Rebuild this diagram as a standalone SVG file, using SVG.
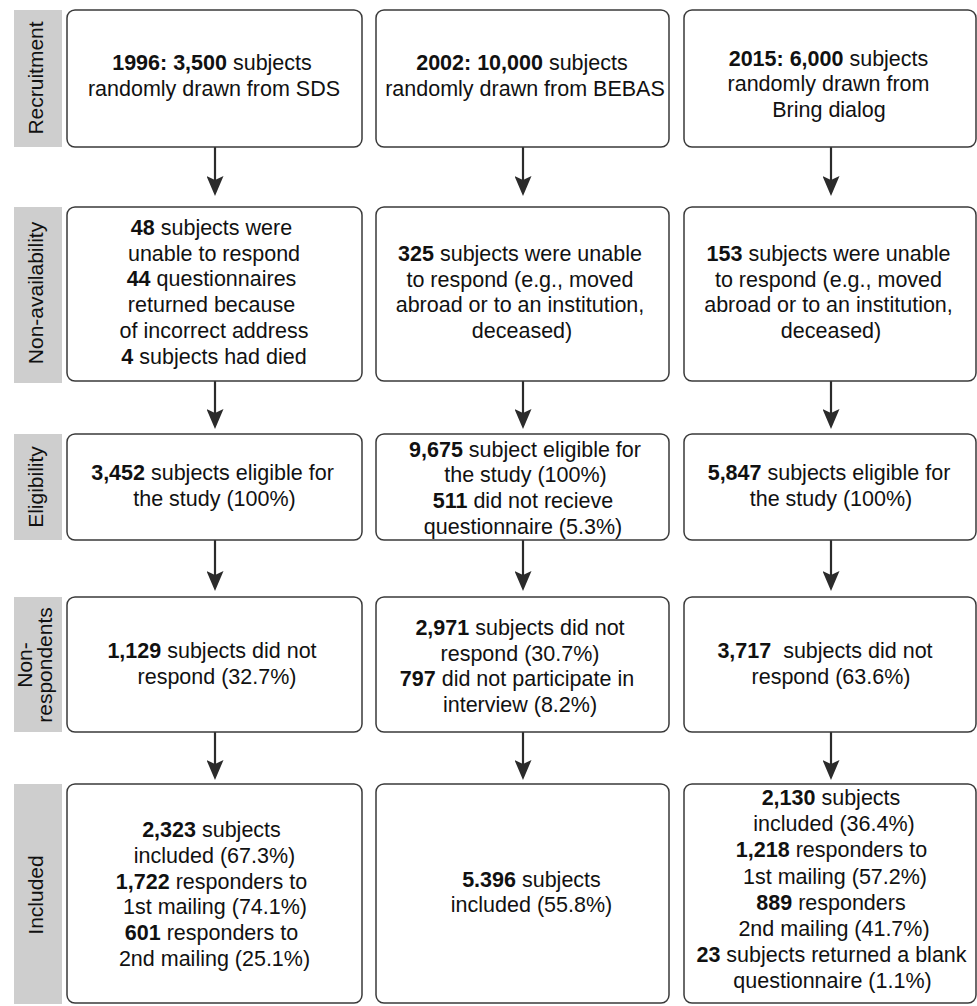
<svg xmlns="http://www.w3.org/2000/svg" width="977" height="1006" viewBox="0 0 977 1006">
<style>
.box{fill:#fff;stroke:#3a3a3a;stroke-width:1.5}
.lab{fill:#cecece}
text{font-family:"Liberation Sans",Arial,sans-serif;font-size:21.5px;fill:#111;text-anchor:middle}
.lt{font-size:21px}
.b{font-weight:bold}
.arr{stroke:#2b2b2b;stroke-width:2.2;fill:none;marker-end:url(#ah)}
</style>
<defs>
<marker id="ah" markerUnits="userSpaceOnUse" viewBox="0 0 20 17" refX="10" refY="8.5" markerWidth="20" markerHeight="17" orient="auto">
<path d="M0,0 L20,8.5 L0,17 L4,8.5 Z" fill="#2b2b2b"/>
</marker>
</defs>
<g id="labels">
<g id="lab-recruitment"><rect class="lab" x="14" y="10" width="48" height="137"/><text class="lt" transform="translate(43,78) rotate(-90)">Recruitment</text></g>
<g id="lab-nonavail"><rect class="lab" x="14" y="207" width="48" height="176"/><text class="lt" transform="translate(43,293) rotate(-90)">Non-availability</text></g>
<g id="lab-elig"><rect class="lab" x="14" y="434" width="48" height="106"/><text class="lt" transform="translate(43,487) rotate(-90)">Eligibility</text></g>
<g id="lab-nonresp"><rect class="lab" x="14" y="597" width="48" height="135"/><text class="lt" transform="translate(31.5,665) rotate(-90)">Non-</text><text class="lt" transform="translate(52,665) rotate(-90)">respondents</text></g>
<g id="lab-included"><rect class="lab" x="14" y="784" width="48" height="220"/><text class="lt" transform="translate(43,895) rotate(-90)">Included</text></g>
</g>
<g id="connectors">
<line class="arr" x1="215" y1="147" x2="215" y2="186"/>
<line class="arr" x1="523" y1="147" x2="523" y2="186"/>
<line class="arr" x1="831" y1="147" x2="831" y2="186"/>
<line class="arr" x1="215" y1="381" x2="215" y2="419"/>
<line class="arr" x1="523" y1="381" x2="523" y2="419"/>
<line class="arr" x1="831" y1="381" x2="831" y2="419"/>
<line class="arr" x1="215" y1="540" x2="215" y2="581"/>
<line class="arr" x1="523" y1="540" x2="523" y2="581"/>
<line class="arr" x1="831" y1="540" x2="831" y2="581"/>
<line class="arr" x1="215" y1="732" x2="215" y2="770"/>
<line class="arr" x1="523" y1="732" x2="523" y2="770"/>
<line class="arr" x1="831" y1="732" x2="831" y2="770"/>
</g>
<g id="n-r1c1"><rect class="box" x="67" y="10" width="295" height="137" rx="8"/>
<text x="212" y="70"><tspan class="b">1996: 3,500</tspan> subjects</text>
<text x="214" y="96">randomly drawn from SDS</text></g>
<g id="n-r1c2"><rect class="box" x="376" y="10" width="293" height="137" rx="8"/>
<text x="522" y="70"><tspan class="b">2002: 10,000</tspan> subjects</text>
<text x="525" y="96">randomly drawn from BEBAS</text></g>
<g id="n-r1c3"><rect class="box" x="684" y="10" width="292" height="137" rx="8"/>
<text x="828.5" y="65.5"><tspan class="b">2015: 6,000</tspan> subjects</text>
<text x="828.5" y="91">randomly drawn from</text>
<text x="829" y="116.5">Bring dialog</text></g>
<g id="n-r2c1"><rect class="box" x="67" y="207" width="295" height="174" rx="8"/>
<text x="211.5" y="235"><tspan class="b">48</tspan> subjects were</text>
<text x="214" y="260.7">unable to respond</text>
<text x="211.5" y="286.4"><tspan class="b">44</tspan> questionnaires</text>
<text x="211.5" y="312.1">returned because</text>
<text x="214" y="337.8">of incorrect address</text>
<text x="214" y="363.5"><tspan class="b">4</tspan> subjects had died</text></g>
<g id="n-r2c2"><rect class="box" x="376" y="207" width="293" height="174" rx="8"/>
<text x="520" y="261"><tspan class="b">325</tspan> subjects were unable</text>
<text x="520" y="286.7">to respond (e.g., moved</text>
<text x="520" y="312.4">abroad or to an institution,</text>
<text x="522" y="338.1">deceased)</text></g>
<g id="n-r2c3"><rect class="box" x="684" y="207" width="292" height="174" rx="8"/>
<text x="828.5" y="261"><tspan class="b">153</tspan> subjects were unable</text>
<text x="828.5" y="286.7">to respond (e.g., moved</text>
<text x="828.5" y="312.4">abroad or to an institution,</text>
<text x="831" y="338.1">deceased)</text></g>
<g id="n-r3c1"><rect class="box" x="67" y="434" width="295" height="106" rx="8"/>
<text x="212.5" y="480"><tspan class="b">3,452</tspan> subjects eligible for</text>
<text x="214.5" y="506">the study (100%)</text></g>
<g id="n-r3c2"><rect class="box" x="376" y="434" width="293" height="106" rx="8"/>
<text x="525" y="456.7"><tspan class="b">9,675</tspan> subject eligible for</text>
<text x="525.5" y="482.4">the study (100%)</text>
<text x="523" y="508.1"><tspan class="b">511</tspan> did not recieve</text>
<text x="523" y="533.8">questionnaire (5.3%)</text></g>
<g id="n-r3c3"><rect class="box" x="684" y="434" width="292" height="106" rx="8"/>
<text x="829" y="480"><tspan class="b">5,847</tspan> subjects eligible for</text>
<text x="831" y="506">the study (100%)</text></g>
<g id="n-r4c1"><rect class="box" x="67" y="597" width="295" height="135" rx="8"/>
<text x="212" y="658.3"><tspan class="b">1,129</tspan> subjects did not</text>
<text x="217" y="684">respond (32.7%)</text></g>
<g id="n-r4c2"><rect class="box" x="376" y="597" width="293" height="135" rx="8"/>
<text x="520" y="635"><tspan class="b">2,971</tspan> subjects did not</text>
<text x="520" y="660.7">respond (30.7%)</text>
<text x="517" y="686.4"><tspan class="b">797</tspan> did not participate in</text>
<text x="520" y="712.1">interview (8.2%)</text></g>
<g id="n-r4c3"><rect class="box" x="684" y="597" width="292" height="135" rx="8"/>
<text x="825" y="658.3"><tspan class="b">3,717</tspan>&#160; subjects did not</text>
<text x="831" y="684">respond (63.6%)</text></g>
<g id="n-r5c1"><rect class="box" x="67" y="784" width="295" height="219" rx="8"/>
<text x="211.5" y="837.3"><tspan class="b">2,323</tspan> subjects</text>
<text x="214.5" y="863">included (67.3%)</text>
<text x="211.5" y="888.7"><tspan class="b">1,722</tspan> responders to</text>
<text x="215" y="914.4">1st mailing (74.1%)</text>
<text x="211.5" y="940.1"><tspan class="b">601</tspan> responders to</text>
<text x="214.5" y="965.8">2nd mailing (25.1%)</text></g>
<g id="n-r5c2"><rect class="box" x="376" y="784" width="293" height="219" rx="8"/>
<text x="531.5" y="886.7"><tspan class="b">5.396</tspan> subjects</text>
<text x="531.5" y="912.4">included (55.8%)</text></g>
<g id="n-r5c3"><rect class="box" x="684" y="784" width="292" height="219" rx="8"/>
<text x="831" y="805"><tspan class="b">2,130</tspan> subjects</text>
<text x="834" y="831.2">included (36.4%)</text>
<text x="831.5" y="857.4"><tspan class="b">1,218</tspan> responders to</text>
<text x="835" y="883.6">1st mailing (57.2%)</text>
<text x="831" y="909.8"><tspan class="b">889</tspan> responders</text>
<text x="834" y="936">2nd mailing (41.7%)</text>
<text x="831.5" y="962.2"><tspan class="b">23</tspan> subjects returned a blank</text>
<text x="832.5" y="988.4">questionnaire (1.1%)</text></g>
</svg>
